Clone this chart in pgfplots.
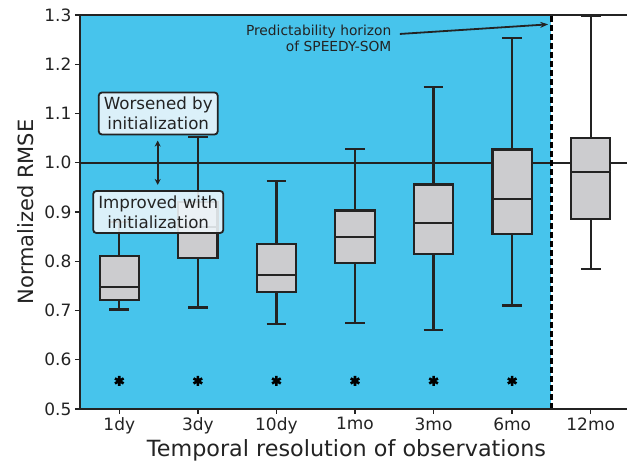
\documentclass[border=0pt]{standalone}
\usepackage{pgfplots}
\pgfplotsset{compat=1.18}
\usepgfplotslibrary{statistics}
\usetikzlibrary{arrows.meta}
\usepackage{fontspec}
\setmainfont{DejaVu Sans}
\definecolor{skyb}{RGB}{71,196,236}
\definecolor{boxg}{RGB}{204,204,207}
\definecolor{lc}{RGB}{35,35,35}
\definecolor{txt}{RGB}{35,35,35}
\definecolor{lblfill}{RGB}{240,247,251}
\pgfplotsset{
  mybox/.style={draw=lc, fill=boxg, line width=2.2pt, solid, mark=none},
}
\begin{document}
\begin{tikzpicture}
\begin{axis}[
  name=ax,
  scale only axis,
  width=550pt, height=394pt,
  xmin=-0.5, xmax=6.5,
  ymin=0.5, ymax=1.3,
  boxplot/draw direction=y,
  boxplot/every whisker/.style={draw=lc, line width=2.2pt},
  boxplot/every median/.style={draw=lc, line width=2.2pt},
  xtick={0,1,2,3,4,5,6},
  xticklabels={1dy,3dy,10dy,1mo,3mo,6mo,12mo},
  ytick={0.5,0.6,0.7,0.8,0.9,1.0,1.1,1.2,1.3},
  yticklabel style={/pgf/number format/fixed, /pgf/number format/fixed zerofill, /pgf/number format/precision=1},
  /pgf/number format/assume math mode=true,
  tick label style={font=\fontsize{17}{20}\selectfont, text=txt},
  tick align=outside,
  xtick pos=left, ytick pos=left,
  major tick length=5pt,
  every tick/.style={lc, line width=1.4pt},
  axis line style={lc, line width=1.5pt},
  xlabel={Temporal resolution of observations},
  ylabel={Normalized RMSE},
  xlabel style={font=\fontsize{22.3}{26}\selectfont, text=txt, at={(axis description cs:0.5,0)}, anchor=center, yshift=-41pt, xshift=-8.5pt},
  ylabel style={font=\fontsize{21}{24}\selectfont, text=txt, at={(axis description cs:0,0.5)}, anchor=center, yshift=54pt},
  axis on top,
]
% blue background (before predictability horizon)
\addplot[fill=skyb, draw=none] coordinates {(-0.5,0.5) (5.5,0.5) (5.5,1.3) (-0.5,1.3)} -- cycle;
% reference line at 1.0
\addplot[lc, line width=2.2pt] coordinates {(-0.5,1.0) (6.5,1.0)};
% predictability horizon
\addplot[black, line width=2.6pt, dash pattern=on 6pt off 3pt] coordinates {(5.5,0.5) (5.5,1.3)};

% box plots
\addplot[mybox, boxplot prepared={draw position=0, lower whisker=0.702, lower quartile=0.722, median=0.747, upper quartile=0.811, upper whisker=0.88, box extend=0.5, whisker extend=0.25}] coordinates {};
\addplot[mybox, boxplot prepared={draw position=1, lower whisker=0.706, lower quartile=0.807, median=0.870, upper quartile=0.920, upper whisker=1.052, box extend=0.5, whisker extend=0.25}] coordinates {};
\addplot[mybox, boxplot prepared={draw position=2, lower whisker=0.673, lower quartile=0.738, median=0.772, upper quartile=0.835, upper whisker=0.963, box extend=0.5, whisker extend=0.25}] coordinates {};
\addplot[mybox, boxplot prepared={draw position=3, lower whisker=0.675, lower quartile=0.797, median=0.849, upper quartile=0.903, upper whisker=1.028, box extend=0.5, whisker extend=0.25}] coordinates {};
\addplot[mybox, boxplot prepared={draw position=4, lower whisker=0.661, lower quartile=0.815, median=0.877, upper quartile=0.956, upper whisker=1.154, box extend=0.5, whisker extend=0.25}] coordinates {};
\addplot[mybox, boxplot prepared={draw position=5, lower whisker=0.710, lower quartile=0.855, median=0.927, upper quartile=1.027, upper whisker=1.253, box extend=0.5, whisker extend=0.25}] coordinates {};
\addplot[mybox, boxplot prepared={draw position=6, lower whisker=0.784, lower quartile=0.886, median=0.982, upper quartile=1.051, upper whisker=1.298, box extend=0.5, whisker extend=0.25}] coordinates {};

% significance markers
\addplot[only marks, mark=asterisk, mark size=5pt, mark options={draw=black, line width=2.6pt}] coordinates {(0,0.557) (1,0.557) (2,0.557) (3,0.557) (4,0.557) (5,0.557)};

% annotations
\node[draw=lc, line width=1.8pt, rounded corners=3pt, fill=lblfill, fill opacity=0.88, text opacity=1, text=txt, align=center, inner xsep=5pt, inner ysep=4.5pt, font=\fontsize{16.7}{20}\selectfont] at (axis cs:0.496,1.1) {Worsened by\\initialization};
\node[draw=lc, line width=1.8pt, rounded corners=3pt, fill=lblfill, fill opacity=0.88, text opacity=1, text=txt, align=center, inner xsep=5pt, inner ysep=4.5pt, font=\fontsize{16.7}{20}\selectfont] at (axis cs:0.496,0.9) {Improved with\\initialization};
\draw[{Stealth[length=6pt,width=6pt]}-{Stealth[length=6pt,width=6pt]}, lc, line width=2pt] (axis cs:0.489,1.045) -- (axis cs:0.489,0.955);
\node[anchor=east, align=right, text=txt, font=\fontsize{13.8}{15.5}\selectfont] at (axis cs:3.508,1.2523) {Predictability horizon\\of SPEEDY-SOM};
\draw[-{Stealth[length=8pt,width=6pt]}, lc, line width=1.8pt] (axis cs:3.571,1.2615) -- (axis cs:5.458,1.281);
\end{axis}
\pgfresetboundingbox
\path[use as bounding box] ([xshift=-80pt,yshift=-56pt]ax.south west) rectangle ([xshift=547pt,yshift=409pt]ax.south west);
\end{tikzpicture}
\end{document}
